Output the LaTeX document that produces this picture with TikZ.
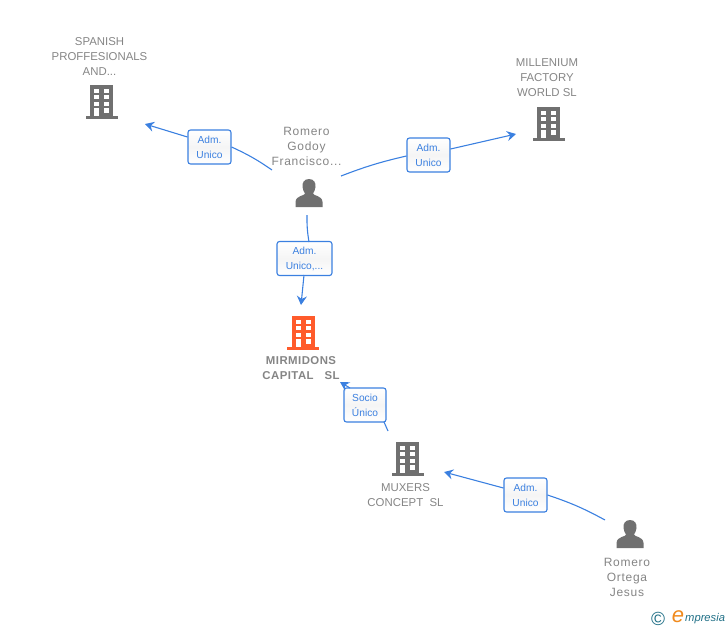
\documentclass[tikz,border=0pt]{standalone}
\usepackage{fontspec}
\setmainfont{Liberation Sans}
\newfontfamily\spacedfont[LetterSpace=4]{Liberation Sans}
\newfontfamily\personfont[LetterSpace=6]{Liberation Sans}
\usepackage{xcolor}
\usetikzlibrary{positioning,arrows.meta,shadings}
\definecolor{linkblue}{HTML}{3B80E0}
\definecolor{icongrey}{HTML}{707070}
\definecolor{textgrey}{HTML}{858585}
\definecolor{firmorange}{HTML}{FF5B2B}
\definecolor{logoteal}{HTML}{1F6F86}
\definecolor{logoorange}{HTML}{F08A1D}
\tikzset{
  company/.style={font=\fontsize{11.4}{15}\selectfont, text=textgrey, align=center, inner sep=0pt},
  rolebox/.style={draw=linkblue, line width=1.1pt, rounded corners=2.5pt, top color=white, bottom color=white, middle color=black!4,
    text=linkblue, font=\fontsize{10.2}{15}\selectfont, align=center, inner sep=0pt, minimum height=34pt},
  link/.style={draw=linkblue, line width=1.1pt},
  arrowlink/.style={link, -{Stealth[length=9pt,width=10pt,inset=3pt]}},
  pics/building/.style={code={
    \fill[#1] (-11.5,-16) rectangle (11.5,15);
    \fill[#1] (-16,15) rectangle (16,18);
    \foreach \yy in {-12.5,-6.5,0.5} {
      \fill[white] (-7.5,\yy) rectangle (-2.5,\yy+4);
      \fill[white] (2.5,\yy) rectangle (7.5,\yy+4);
    }
    \fill[white] (-7.5,7) rectangle (-2.5,15);
    \fill[white] (2.5,7) rectangle (7.5,12);
  }},
  pics/person/.style={code={
    \fill[icongrey] (0,-14) .. controls (-5,-14) and (-7,-10) .. (-6.5,-6)
      .. controls (-6.2,-3) and (-5,-1) .. (-4,0.5) .. controls (-4,3) and (-13,2) .. (-13.5,9)
      -- (-13.5,14) -- (13.5,14) -- (13.5,9) .. controls (13,2) and (4,3) .. (4,0.5)
      .. controls (5,-1) and (6.2,-3) .. (6.5,-6) .. controls (7,-10) and (5,-14) .. (0,-14) -- cycle;
  }},
}
\begin{document}
\begin{tikzpicture}[x=1pt, y=-1pt]
    \useasboundingbox (0,0) rectangle (728,630);

    \pic at (101.5,101) {building=icongrey};
    \pic at (548.5,123) {building=icongrey};
    \pic at (303,332) {building=firmorange};
    \pic at (407.5,458) {building=icongrey};
    \pic at (309,193) {person};
    \pic at (630,534) {person};

    \node[company] (spanish) at (99.5,57) {SPANISH\\PROFFESIONALS\\AND...};
    \node[company] (millenium) at (547,78) {MILLENIUM\\FACTORY\\WORLD SL};
    \node[company, font=\fontsize{12}{15}\selectfont\personfont] (godoy) at (306.5,146) {Romero\\Godoy\\Francisco...};
    \node[company, font=\fontsize{11.4}{15}\selectfont\spacedfont\bfseries] (mirmidons) at (301,368) {MIRMIDONS\\CAPITAL\ \ \ SL};
    \node[company] (muxers) at (405.5,495) {MUXERS\\CONCEPT\ \ SL};
    \node[company, font=\fontsize{12}{15}\selectfont\personfont] (ortega) at (627,577) {Romero\\Ortega\\Jesus};

    \coordinate (godoyW) at (272,170);
    \coordinate (godoyE) at (341,176);
    \coordinate (godoyS) at (307,215);
    \coordinate (spanishIn) at (145,124);
    \coordinate (milleniumIn) at (516,134);
    \coordinate (mirmidonsIn) at (301,305);
    \coordinate (mirmidonsSE) at (340,382);
    \coordinate (muxersOut) at (388,431);
    \coordinate (muxersIn) at (444,472);
    \coordinate (ortegaOut) at (605,520);

    \node[rolebox, minimum width=43pt] (role1) at (209.5,147) {Adm.\\Unico};
    \node[rolebox, minimum width=43pt] (role2) at (428.5,155) {Adm.\\Unico};
    \node[rolebox, minimum width=55pt] (role3) at (304.5,258.5) {Adm.\\Unico,...};
    \node[rolebox, minimum width=42pt] (role4) at (365,405) {Socio\\Único};
    \node[rolebox, minimum width=43pt] (role5) at (525.5,495) {Adm.\\Unico};

    \draw[link] (godoyW) to[bend right=5] (role1.east);
    \draw[arrowlink] (role1.west |- 0,137) -- (spanishIn);
    \draw[link] (godoyE) to[bend left=4] (role2.west |- 0,156);
    \draw[arrowlink] (role2.east |- 0,149) -- (milleniumIn);
    \draw[link] (godoyS) to[bend right=5] (309,242);
    \draw[arrowlink] (304,275) -- (mirmidonsIn);
    \draw[link] (muxersOut) -- (384,422);
    \draw[arrowlink] (350,388) -- (mirmidonsSE);
    \draw[link] (ortegaOut) to[bend right=5] (role5.east);
    \draw[arrowlink] (role5.west |- 0,488) -- (muxersIn);

    \node[text=logoteal, font=\fontsize{19}{19}\selectfont, inner sep=0pt] (copyright) at (658,619) {©};
    \node[text=logoorange, font=\fontsize{22}{22}\selectfont\itshape, inner sep=0pt] (logoe) at (678,617) {e};
    \node[text=logoteal, font=\fontsize{11.2}{12}\selectfont\itshape, inner sep=0pt, anchor=west] (logotext) at (685,619) {mpresia};
\end{tikzpicture}
\end{document}
